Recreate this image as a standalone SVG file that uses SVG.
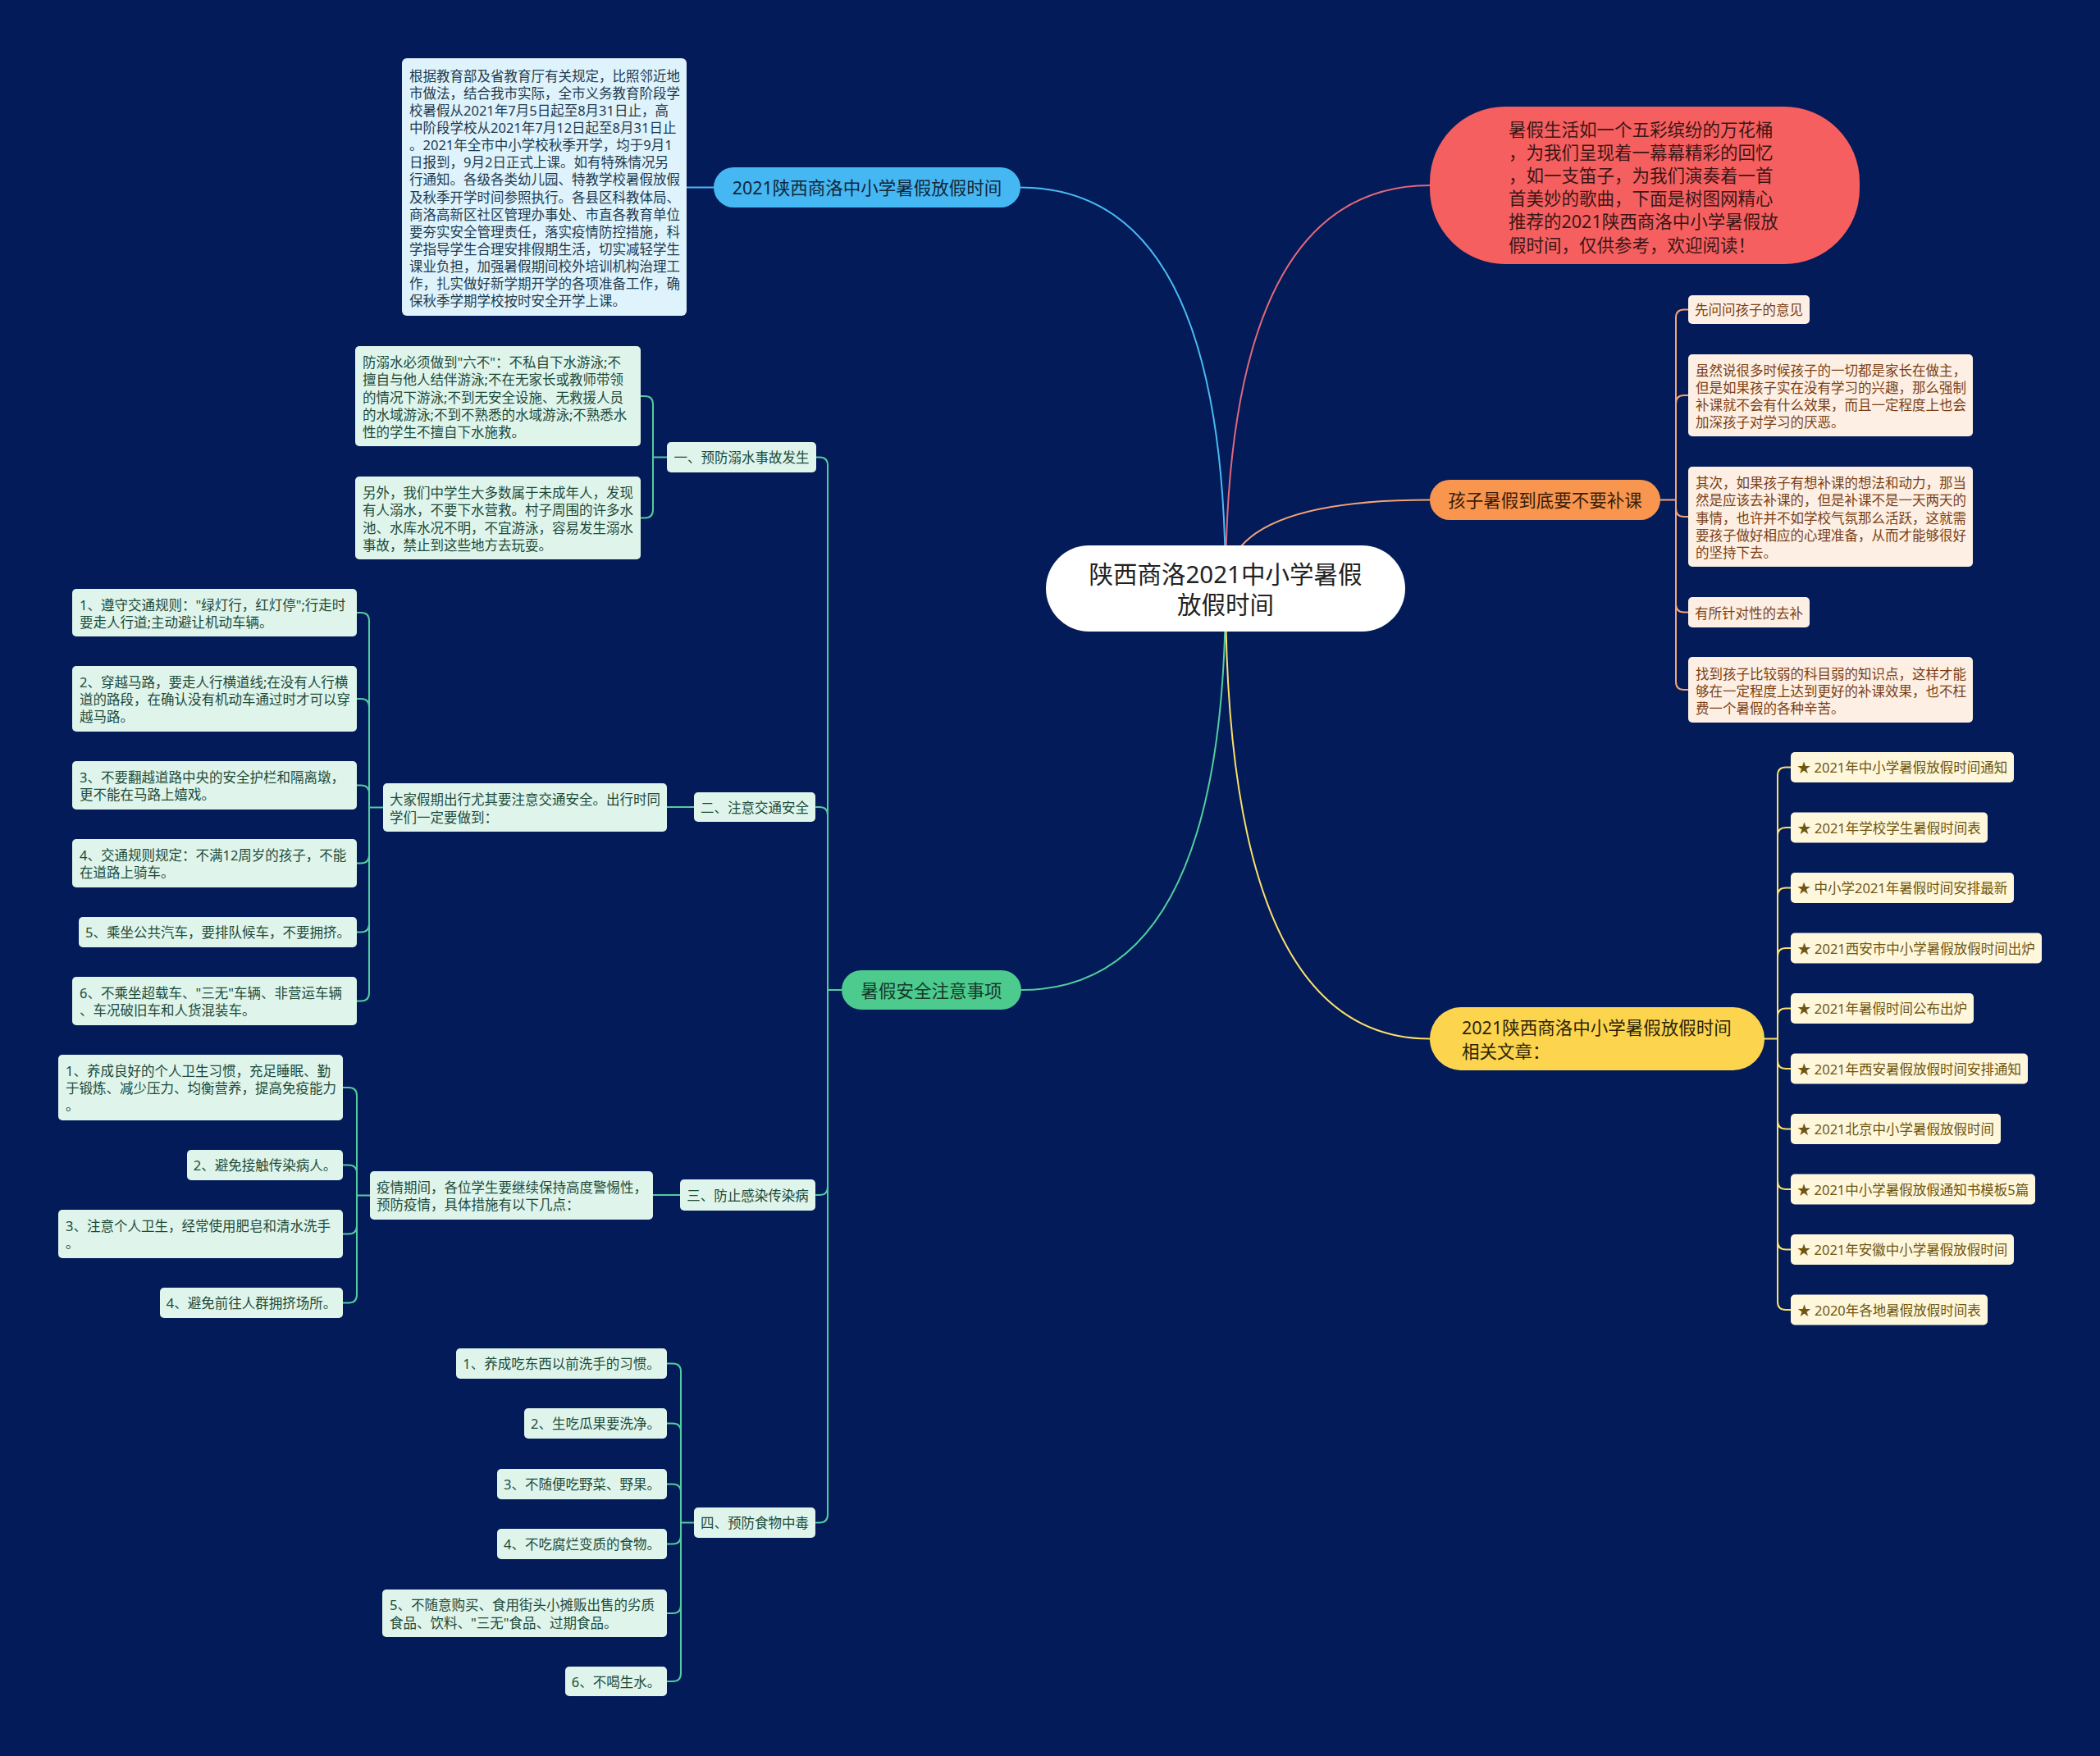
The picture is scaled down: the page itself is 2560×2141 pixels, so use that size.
<svg xmlns="http://www.w3.org/2000/svg" width="2560" height="2141" viewBox="0 0 2560 2141">
<style>
text{font-family:"Noto Sans","Noto Sans CJK SC",sans-serif;dominant-baseline:central}
.c{text-anchor:middle}
.s{font-size:16.5px}
.m{font-size:21.5px}
.ln{fill:none;stroke-width:2;stroke-linecap:round}
.lb{stroke:#4ab9f2}.lr{stroke:#e2687c}.lo{stroke:#f3a475}.ly{stroke:#fbe06a}.lg{stroke:#52cda0}
.gs rect{fill:#dff5eb}.gs text{fill:#1d4a3a}
.os rect{fill:#fdefe3}.os text{fill:#7c3f15}
.ys rect{fill:#fef7dc}.ys text{fill:#6e5610}
</style>
<rect width="2560" height="2141" fill="#031b58"/>
<g id="connectors">
<path class="ln lb" d="M1494,717 Q1494,228.5 1244,228.5"/>
<path class="ln lr" d="M1494,717 Q1494,226 1743,226"/>
<path class="ln lo" d="M1494,717 Q1494,609.5 1743,609.5"/>
<path class="ln ly" d="M1494,717 Q1494,1266.5 1743,1266.5"/>
<path class="ln lg" d="M1494,717 Q1494,1207 1245,1207"/>
<path class="ln lb" d="M870,228.5 H837"/>
<path class="ln lo" d="M2024,609.5 H2043 V387.5 Q2043,377.5 2053,377.5 H2058"/>
<path class="ln lo" d="M2043,609.5 V492 Q2043,482 2053,482 H2058"/>
<path class="ln lo" d="M2043,609.5 V620 Q2043,630 2053,630 H2058"/>
<path class="ln lo" d="M2043,609.5 V736.5 Q2043,746.5 2053,746.5 H2058"/>
<path class="ln lo" d="M2043,609.5 V831 Q2043,841 2053,841 H2058"/>
<path class="ln ly" d="M2151,1266.5 H2167 V945.5 Q2167,935.5 2177,935.5 H2183"/>
<path class="ln ly" d="M2167,1266.5 V1019 Q2167,1009 2177,1009 H2183"/>
<path class="ln ly" d="M2167,1266.5 V1092.5 Q2167,1082.5 2177,1082.5 H2183"/>
<path class="ln ly" d="M2167,1266.5 V1166 Q2167,1156 2177,1156 H2183"/>
<path class="ln ly" d="M2167,1266.5 V1239.5 Q2167,1229.5 2177,1229.5 H2183"/>
<path class="ln ly" d="M2167,1266.5 V1293 Q2167,1303 2177,1303 H2183"/>
<path class="ln ly" d="M2167,1266.5 V1366.5 Q2167,1376.5 2177,1376.5 H2183"/>
<path class="ln ly" d="M2167,1266.5 V1440 Q2167,1450 2177,1450 H2183"/>
<path class="ln ly" d="M2167,1266.5 V1513.5 Q2167,1523.5 2177,1523.5 H2183"/>
<path class="ln ly" d="M2167,1266.5 V1587 Q2167,1597 2177,1597 H2183"/>
<path class="ln lg" d="M1026,1207 H1009 V567.5 Q1009,557.5 999,557.5 H995"/>
<path class="ln lg" d="M1009,1207 V994 Q1009,984 999,984 H995"/>
<path class="ln lg" d="M1009,1207 V1447 Q1009,1457 999,1457 H995"/>
<path class="ln lg" d="M1009,1207 V1846.5 Q1009,1856.5 999,1856.5 H995"/>
<path class="ln lg" d="M813,557.5 H796 V493 Q796,483 786,483 H781"/>
<path class="ln lg" d="M796,557.5 V621.5 Q796,631.5 786,631.5 H781"/>
<path class="ln lg" d="M846,984 H813"/>
<path class="ln lg" d="M467,984.5 H450 V757 Q450,747 440,747 H435"/>
<path class="ln lg" d="M450,984.5 V862 Q450,852 440,852 H435"/>
<path class="ln lg" d="M450,984.5 V967.5 Q450,957.5 440,957.5 H435"/>
<path class="ln lg" d="M450,984.5 V1042.5 Q450,1052.5 440,1052.5 H435"/>
<path class="ln lg" d="M450,984.5 V1126.5 Q450,1136.5 440,1136.5 H435"/>
<path class="ln lg" d="M450,984.5 V1210.5 Q450,1220.5 440,1220.5 H435"/>
<path class="ln lg" d="M829,1457 H796"/>
<path class="ln lg" d="M451,1457.5 H435 V1336 Q435,1326 425,1326 H418"/>
<path class="ln lg" d="M435,1457.5 V1430.5 Q435,1420.5 425,1420.5 H418"/>
<path class="ln lg" d="M435,1457.5 V1494.5 Q435,1504.5 425,1504.5 H418"/>
<path class="ln lg" d="M435,1457.5 V1578.5 Q435,1588.5 425,1588.5 H418"/>
<path class="ln lg" d="M846,1856.5 H830 V1672.5 Q830,1662.5 820,1662.5 H813"/>
<path class="ln lg" d="M830,1856.5 V1745.5 Q830,1735.5 820,1735.5 H813"/>
<path class="ln lg" d="M830,1856.5 V1819.5 Q830,1809.5 820,1809.5 H813"/>
<path class="ln lg" d="M830,1856.5 V1872.5 Q830,1882.5 820,1882.5 H813"/>
<path class="ln lg" d="M830,1856.5 V1957 Q830,1967 820,1967 H813"/>
<path class="ln lg" d="M830,1856.5 V2040 Q830,2050 820,2050 H813"/>
</g>
<g id="root">
<rect x="1275" y="665" width="438" height="105" rx="52.5" fill="#ffffff"/>
<text class="c" x="1494" y="699" font-size="29.5" fill="#222">陕西商洛2021中小学暑假</text>
<text class="c" x="1494" y="736" font-size="29.5" fill="#222">放假时间</text>
</g>
<g id="n-blue">
<rect x="870" y="204" width="374" height="49" rx="24.5" fill="#45b7f2"/>
<text class="c m" x="1057" y="228.5" fill="#12263a">2021陕西商洛中小学暑假放假时间</text>
</g>
<g id="n-blue-text" class="s" fill="#1d3b50">
<rect x="490" y="71" width="347" height="314" rx="6" fill="#dff3fc"/>
<text x="499" y="92">根据教育部及省教育厅有关规定，比照邻近地</text>
<text x="499" y="113.15">市做法，结合我市实际，全市义务教育阶段学</text>
<text x="499" y="134.3">校暑假从2021年7月5日起至8月31日止，高</text>
<text x="499" y="155.45">中阶段学校从2021年7月12日起至8月31日止</text>
<text x="499" y="176.6">。2021年全市中小学校秋季开学，均于9月1</text>
<text x="499" y="197.75">日报到，9月2日正式上课。如有特殊情况另</text>
<text x="499" y="218.9">行通知。各级各类幼儿园、特教学校暑假放假</text>
<text x="499" y="240.05">及秋季开学时间参照执行。各县区科教体局、</text>
<text x="499" y="261.2">商洛高新区社区管理办事处、市直各教育单位</text>
<text x="499" y="282.35">要夯实安全管理责任，落实疫情防控措施，科</text>
<text x="499" y="303.5">学指导学生合理安排假期生活，切实减轻学生</text>
<text x="499" y="324.65">课业负担，加强暑假期间校外培训机构治理工</text>
<text x="499" y="345.8">作，扎实做好新学期开学的各项准备工作，确</text>
<text x="499" y="366.95">保秋季学期学校按时安全开学上课。</text>
</g>
<g id="n-red" class="m" fill="#3b1616">
<rect x="1743" y="130" width="524" height="192" rx="92" fill="#f65f5f"/>
<text x="1839" y="157">暑假生活如一个五彩缤纷的万花桶</text>
<text x="1839" y="185.2">，为我们呈现着一幕幕精彩的回忆</text>
<text x="1839" y="213.4">，如一支笛子，为我们演奏着一首</text>
<text x="1839" y="241.6">首美妙的歌曲，下面是树图网精心</text>
<text x="1839" y="269.8">推荐的2021陕西商洛中小学暑假放</text>
<text x="1839" y="298">假时间，仅供参考，欢迎阅读！</text>
</g>
<g id="n-orange">
<rect x="1743" y="585" width="281" height="49" rx="24.5" fill="#f8964f"/>
<text class="c m" x="1883.5" y="609.5" fill="#3a1d0a">孩子暑假到底要不要补课</text>
</g>
<g id="o1" class="os s"><rect x="2058" y="360" width="148" height="35" rx="5"/><text class="c" x="2132" y="377.5">先问问孩子的意见</text></g>
<g id="o2" class="os s"><rect x="2058" y="432" width="347" height="100" rx="5"/>
<text x="2067" y="451">虽然说很多时候孩子的一切都是家长在做主，</text>
<text x="2067" y="472.2">但是如果孩子实在没有学习的兴趣，那么强制</text>
<text x="2067" y="493.4">补课就不会有什么效果，而且一定程度上也会</text>
<text x="2067" y="514.6">加深孩子对学习的厌恶。</text></g>
<g id="o3" class="os s"><rect x="2058" y="569" width="347" height="122" rx="5"/>
<text x="2067" y="588.6">其次，如果孩子有想补课的想法和动力，那当</text>
<text x="2067" y="609.8">然是应该去补课的，但是补课不是一天两天的</text>
<text x="2067" y="631">事情，也许并不如学校气氛那么活跃，这就需</text>
<text x="2067" y="652.2">要孩子做好相应的心理准备，从而才能够很好</text>
<text x="2067" y="673.4">的坚持下去。</text></g>
<g id="o4" class="os s"><rect x="2058" y="728" width="148" height="37" rx="5"/><text class="c" x="2132" y="747">有所针对性的去补</text></g>
<g id="o5" class="os s"><rect x="2058" y="801" width="347" height="80" rx="5"/>
<text x="2067" y="821">找到孩子比较弱的科目弱的知识点，这样才能</text>
<text x="2067" y="842.2">够在一定程度上达到更好的补课效果，也不枉</text>
<text x="2067" y="863.4">费一个暑假的各种辛苦。</text></g>
<g id="n-yellow" class="m" fill="#2b2408">
<rect x="1743" y="1228" width="408" height="77" rx="38.5" fill="#fdd44e"/>
<text x="1782" y="1252.5">2021陕西商洛中小学暑假放假时间</text>
<text x="1782" y="1281">相关文章：</text>
</g>
<g id="y1" class="ys s"><rect x="2183" y="917" width="272" height="37" rx="5"/><text class="c" x="2319" y="935.5">★ 2021年中小学暑假放假时间通知</text></g>
<g id="y2" class="ys s"><rect x="2183" y="990.5" width="240" height="37" rx="5"/><text class="c" x="2303" y="1009">★ 2021年学校学生暑假时间表</text></g>
<g id="y3" class="ys s"><rect x="2183" y="1064" width="272" height="37" rx="5"/><text class="c" x="2319" y="1082.5">★ 中小学2021年暑假时间安排最新</text></g>
<g id="y4" class="ys s"><rect x="2183" y="1137.5" width="306" height="37" rx="5"/><text class="c" x="2336" y="1156">★ 2021西安市中小学暑假放假时间出炉</text></g>
<g id="y5" class="ys s"><rect x="2183" y="1211" width="223" height="37" rx="5"/><text class="c" x="2294.5" y="1229.5">★ 2021年暑假时间公布出炉</text></g>
<g id="y6" class="ys s"><rect x="2183" y="1284.5" width="289" height="37" rx="5"/><text class="c" x="2327.5" y="1303">★ 2021年西安暑假放假时间安排通知</text></g>
<g id="y7" class="ys s"><rect x="2183" y="1358" width="256" height="37" rx="5"/><text class="c" x="2311" y="1376.5">★ 2021北京中小学暑假放假时间</text></g>
<g id="y8" class="ys s"><rect x="2183" y="1431.5" width="298" height="37" rx="5"/><text class="c" x="2332" y="1450">★ 2021中小学暑假放假通知书模板5篇</text></g>
<g id="y9" class="ys s"><rect x="2183" y="1505" width="272" height="37" rx="5"/><text class="c" x="2319" y="1523.5">★ 2021年安徽中小学暑假放假时间</text></g>
<g id="y10" class="ys s"><rect x="2183" y="1578.5" width="240" height="37" rx="5"/><text class="c" x="2303" y="1597">★ 2020年各地暑假放假时间表</text></g>
<g id="n-green">
<rect x="1026" y="1183" width="219" height="48" rx="24" fill="#4dca8e"/>
<text class="c m" x="1135.5" y="1207" fill="#15392a">暑假安全注意事项</text>
</g>
<g id="g1" class="gs s"><rect x="813" y="539" width="182" height="37" rx="5"/><text class="c" x="904" y="557.5">一、预防溺水事故发生</text></g>
<g id="g1a" class="gs s"><rect x="433" y="422" width="348" height="122" rx="5"/>
<text x="442" y="441.6">防溺水必须做到"六不"：不私自下水游泳;不</text>
<text x="442" y="462.8">擅自与他人结伴游泳;不在无家长或教师带领</text>
<text x="442" y="484">的情况下游泳;不到无安全设施、无救援人员</text>
<text x="442" y="505.2">的水域游泳;不到不熟悉的水域游泳;不熟悉水</text>
<text x="442" y="526.4">性的学生不擅自下水施救。</text></g>
<g id="g1b" class="gs s"><rect x="433" y="581" width="348" height="101" rx="5"/>
<text x="442" y="600.7">另外，我们中学生大多数属于未成年人，发现</text>
<text x="442" y="621.9">有人溺水，不要下水营救。村子周围的许多水</text>
<text x="442" y="643.1">池、水库水况不明，不宜游泳，容易发生溺水</text>
<text x="442" y="664.3">事故，禁止到这些地方去玩耍。</text></g>
<g id="g2" class="gs s"><rect x="846" y="966" width="148" height="36" rx="5"/><text class="c" x="920" y="984">二、注意交通安全</text></g>
<g id="g2a" class="gs s"><rect x="467" y="955" width="346" height="59" rx="5"/>
<text x="475" y="974.9">大家假期出行尤其要注意交通安全。出行时同</text>
<text x="475" y="996.1">学们一定要做到：</text></g>
<g id="t1" class="gs s"><rect x="88" y="718" width="347" height="58" rx="5"/>
<text x="97" y="737.4">1、遵守交通规则："绿灯行，红灯停";行走时</text>
<text x="97" y="758.6">要走人行道;主动避让机动车辆。</text></g>
<g id="t2" class="gs s"><rect x="88" y="812" width="347" height="80" rx="5"/>
<text x="97" y="831.3">2、穿越马路，要走人行横道线;在没有人行横</text>
<text x="97" y="852.5">道的路段，在确认没有机动车通过时才可以穿</text>
<text x="97" y="873.7">越马路。</text></g>
<g id="t3" class="gs s"><rect x="88" y="928" width="347" height="59" rx="5"/>
<text x="97" y="947.4">3、不要翻越道路中央的安全护栏和隔离墩，</text>
<text x="97" y="968.6">更不能在马路上嬉戏。</text></g>
<g id="t4" class="gs s"><rect x="88" y="1023" width="347" height="59" rx="5"/>
<text x="97" y="1042.4">4、交通规则规定：不满12周岁的孩子，不能</text>
<text x="97" y="1063.6">在道路上骑车。</text></g>
<g id="t5" class="gs s"><rect x="96" y="1118" width="339" height="37" rx="5"/><text class="c" x="265.5" y="1136.5">5、乘坐公共汽车，要排队候车，不要拥挤。</text></g>
<g id="t6" class="gs s"><rect x="88" y="1191" width="347" height="59" rx="5"/>
<text x="97" y="1210.4">6、不乘坐超载车、"三无"车辆、非营运车辆</text>
<text x="97" y="1231.6">、车况破旧车和人货混装车。</text></g>
<g id="g3" class="gs s"><rect x="829" y="1438" width="165" height="38" rx="5"/><text class="c" x="911.5" y="1457">三、防止感染传染病</text></g>
<g id="g3a" class="gs s"><rect x="451" y="1428" width="345" height="59" rx="5"/>
<text x="459" y="1447.4">疫情期间，各位学生要继续保持高度警惕性，</text>
<text x="459" y="1468.6">预防疫情，具体措施有以下几点：</text></g>
<g id="i1" class="gs s"><rect x="71" y="1286" width="347" height="80" rx="5"/>
<text x="80" y="1305.3">1、养成良好的个人卫生习惯，充足睡眠、勤</text>
<text x="80" y="1326.5">于锻炼、减少压力、均衡营养，提高免疫能力</text>
<text x="80" y="1347.7">。</text></g>
<g id="i2" class="gs s"><rect x="228" y="1402" width="190" height="37" rx="5"/><text class="c" x="323" y="1420.5">2、避免接触传染病人。</text></g>
<g id="i3" class="gs s"><rect x="71" y="1475" width="347" height="59" rx="5"/>
<text x="80" y="1494.4">3、注意个人卫生，经常使用肥皂和清水洗手</text>
<text x="80" y="1515.6">。</text></g>
<g id="i4" class="gs s"><rect x="195" y="1570" width="223" height="37" rx="5"/><text class="c" x="306.5" y="1588.5">4、避免前往人群拥挤场所。</text></g>
<g id="g4" class="gs s"><rect x="846" y="1838" width="148" height="37" rx="5"/><text class="c" x="920" y="1856.5">四、预防食物中毒</text></g>
<g id="f1" class="gs s"><rect x="556" y="1644" width="257" height="37" rx="5"/><text class="c" x="684.5" y="1662.5">1、养成吃东西以前洗手的习惯。</text></g>
<g id="f2" class="gs s"><rect x="639" y="1717" width="174" height="37" rx="5"/><text class="c" x="726" y="1735.5">2、生吃瓜果要洗净。</text></g>
<g id="f3" class="gs s"><rect x="606" y="1791" width="207" height="37" rx="5"/><text class="c" x="709.5" y="1809.5">3、不随便吃野菜、野果。</text></g>
<g id="f4" class="gs s"><rect x="606" y="1864" width="207" height="37" rx="5"/><text class="c" x="709.5" y="1882.5">4、不吃腐烂变质的食物。</text></g>
<g id="f5" class="gs s"><rect x="466" y="1938" width="347" height="58" rx="5"/>
<text x="475" y="1956.9">5、不随意购买、食用街头小摊贩出售的劣质</text>
<text x="475" y="1978.1">食品、饮料、"三无"食品、过期食品。</text></g>
<g id="f6" class="gs s"><rect x="689" y="2032" width="124" height="36" rx="5"/><text class="c" x="751" y="2050">6、不喝生水。</text></g>
</svg>
